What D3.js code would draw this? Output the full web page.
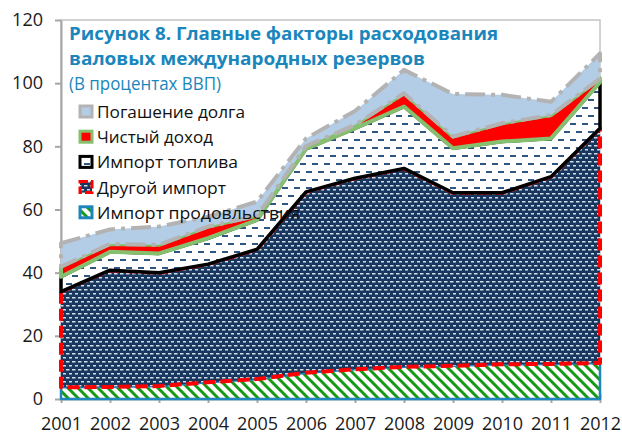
<!DOCTYPE html>
<html lang="ru">
<head>
    <meta charset="UTF-8">
    <title>Рисунок 8</title>
    <style>
        body { margin: 0; background: #fff; }
        svg { display: block; font-family: "Open Sans", sans-serif; }
        .axis text { font-size: 18px; fill: #1a1a1a; font-family: "Open Sans", sans-serif; }
        .axis path, .axis line { stroke: #a6a6a6; stroke-width: 2px; }
        .title { fill: #1a86bc; font-size: 18px; }
        .legend text { font-size: 17px; fill: #111; }
    </style>
</head>
<body>
<svg width="622" height="436"></svg>
<script src="https://cdn.jsdelivr.net/npm/d3@7"></script>
<script>
    // values in percent of GDP (own value of each layer, stacked)
    let years = [2001, 2002, 2003, 2004, 2005, 2006, 2007, 2008, 2009, 2010, 2011, 2012];
    let foodImports = [3.7, 3.8, 4.1, 5.3, 6.3, 8.3, 9.4, 10.2, 10.5, 11.0, 11.1, 11.4];
    let otherImports = [30.3, 37.0, 35.9, 37.4, 41.1, 57.3, 60.5, 62.8, 54.8, 54.3, 59.3, 74.3];
    let fuelImports = [4.7, 5.8, 6.1, 8.2, 9.3, 13.6, 15.8, 19.6, 14.1, 16.2, 12.1, 14.6];
    let netIncome = [3.2, 2.5, 2.7, 3.7, 1.3, 0.9, 1.1, 4.2, 3.7, 5.8, 7.4, 1.2];
    let debtRepayment = [7.4, 4.6, 5.8, 3.1, 4.5, 2.4, 4.4, 7.4, 13.5, 9.0, 4.2, 7.9];

    let seriesKeys = ["food", "other", "fuel", "net", "debt"];
    let seriesNames = ["Импорт продовльствия", "Другой импорт", "Импорт топлива", "Чистый доход", "Погашение долга"];
    let yTicks = [0, 20, 40, 60, 80, 100, 120];
    let titleLines = ["Рисунок 8. Главные факторы расходования", "валовых международных резервов"];
    let subtitle = "(В процентах ВВП)";

    let rows = years.map(function (yr, i) {
        return {
            year: yr, food: foodImports[i], other: otherImports[i], fuel: fuelImports[i],
            net: netIncome[i], debt: debtRepayment[i]
        };
    });

    let styles = {
        food: {fill: "url(#pFood)", stroke: "#1f86bd", width: 2.5, dash: null},
        other: {fill: "url(#pOther)", stroke: "#ff0000", width: 4, dash: "12,5"},
        fuel: {fill: "url(#pFuel)", stroke: "#000", width: 3.5, dash: null},
        net: {fill: "#ff0000", stroke: "#86c06f", width: 4, dash: null},
        debt: {fill: "#b4cde6", stroke: "#b3b3b3", width: 4, dash: "20,6,4,6"}
    };

    let svg = d3.select("svg");

    // fill patterns
    let defs = svg.append("defs");
    let pf = defs.append("pattern").attr("id", "pFood").attr("patternUnits", "userSpaceOnUse")
        .attr("width", 10).attr("height", 10);
    pf.append("rect").attr("width", 10).attr("height", 10).attr("fill", "#fff");
    pf.append("path").attr("d", "M-3,-3L13,13M-3,7L3,13M7,-3L13,3")
        .attr("stroke", "#149a14").attr("stroke-width", 3);

    let po = defs.append("pattern").attr("id", "pOther").attr("patternUnits", "userSpaceOnUse")
        .attr("width", 6).attr("height", 8);
    po.append("rect").attr("width", 6).attr("height", 8).attr("fill", "#17375e");
    po.append("rect").attr("x", 0).attr("y", 1).attr("width", 3.5).attr("height", 1.5).attr("fill", "#d3deea");
    po.append("rect").attr("x", 3).attr("y", 5).attr("width", 3.5).attr("height", 1.5).attr("fill", "#d3deea");

    let pu = defs.append("pattern").attr("id", "pFuel").attr("patternUnits", "userSpaceOnUse")
        .attr("width", 12).attr("height", 16);
    pu.append("rect").attr("width", 12).attr("height", 16).attr("fill", "#fff");
    pu.append("rect").attr("x", 0).attr("y", 3).attr("width", 6).attr("height", 2).attr("fill", "#2f5580");
    pu.append("rect").attr("x", 6).attr("y", 11).attr("width", 6).attr("height", 2).attr("fill", "#2f5580");

    let x = d3.scalePoint().domain(years).range([61, 600]);
    let y = d3.scaleLinear().domain([0, 120]).range([399, 20]);

    // plot frame
    svg.append("rect").attr("x", 61).attr("y", 20).attr("width", 539).attr("height", 379)
        .attr("fill", "none").attr("stroke", "#c4c4c4").attr("stroke-width", 1.5);

    // axes
    svg.append("g").attr("class", "axis").attr("transform", "translate(61,0)")
        .call(d3.axisLeft(y).tickValues(yTicks).tickSize(6).tickSizeOuter(0).tickPadding(12));
    let xAxis = svg.append("g").attr("class", "axis").attr("transform", "translate(0,399)")
        .call(d3.axisBottom(x).tickSize(4).tickSizeOuter(0));
    xAxis.selectAll("text").attr("y", 31).attr("dy", 0);
    xAxis.selectAll(".tick line").attr("y1", -5);

    // title
    let title = svg.append("g").attr("class", "title");
    title.append("text").attr("x", 69).attr("y", 40).attr("font-weight", "bold")
        .attr("textLength", 429).attr("lengthAdjust", "spacingAndGlyphs").text(titleLines[0]);
    title.append("text").attr("x", 69).attr("y", 65).attr("font-weight", "bold")
        .attr("textLength", 356).attr("lengthAdjust", "spacingAndGlyphs").text(titleLines[1]);
    title.append("text").attr("x", 69).attr("y", 90)
        .attr("textLength", 152).attr("lengthAdjust", "spacingAndGlyphs").text(subtitle);

    // stacked areas
    let stack = d3.stack().keys(seriesKeys);
    let layers = stack(rows);
    let area = d3.area()
        .x(function (d) { return x(d.data.year); })
        .y0(function (d) { return y(d[0]); })
        .y1(function (d) { return y(d[1]); });

    svg.append("g").selectAll("path")
        .data(layers)
        .enter().append("path")
        .attr("d", area)
        .attr("fill", function (d) { return styles[d.key].fill; })
        .attr("stroke", function (d) { return styles[d.key].stroke; })
        .attr("stroke-width", function (d) { return styles[d.key].width; })
        .attr("stroke-dasharray", function (d) { return styles[d.key].dash; })
        .attr("stroke-linejoin", "round");

    // legend, top entry is the last series
    let legendLengths = {food: 203, other: 129, fuel: 141, net: 116, debt: 148};
    let legend = svg.append("g").attr("class", "legend");
    let order = seriesKeys.slice().reverse();
    order.forEach(function (key, i) {
        let s = styles[key];
        let by = 118 + i * 25.2;
        legend.append("rect").attr("x", 80).attr("y", by - 12).attr("width", 12).attr("height", 11)
            .attr("fill", s.fill).attr("stroke", s.stroke).attr("stroke-width", 3)
            .attr("stroke-dasharray", key === "other" ? "8,3" : null);
        legend.append("text").attr("x", 97).attr("y", by)
            .attr("textLength", legendLengths[key]).attr("lengthAdjust", "spacingAndGlyphs")
            .text(seriesNames[seriesKeys.indexOf(key)]);
    });
</script>
</body>
</html>
